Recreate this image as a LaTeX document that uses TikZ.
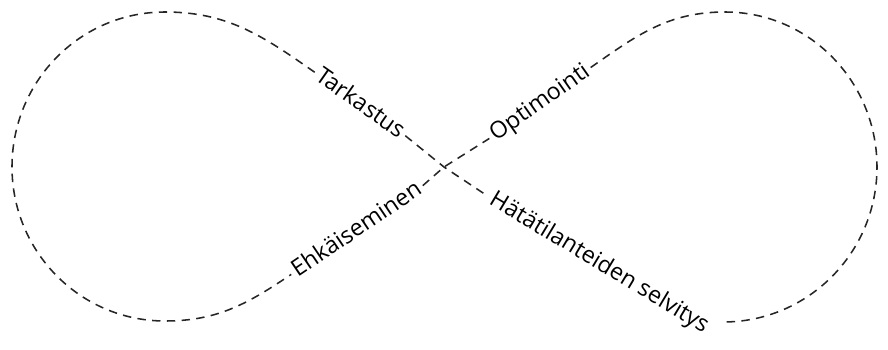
\documentclass[tikz,border=0pt]{standalone}
\usepackage{fontspec}
\setmainfont{Open Sans}
\begin{document}
\begin{tikzpicture}[x=0.025cm,y=0.025cm,
  loop/.style={draw=black!85, line width=1.1pt, dash pattern=on 6pt off 4.5pt},
  lbl/.style={inner sep=2.5pt, text height=12pt, text depth=3pt, font=\fontsize{16.5}{20}\selectfont}]
\useasboundingbox (-444,-182) rectangle (444,167);
\coordinate (c) at (0,0);
\coordinate (ltop) at (-279,155);
\coordinate (lleft) at (-432,0);
\coordinate (lbot) at (-279,-154);
\coordinate (rtop) at (281,155);
\coordinate (rright) at (433,0);
\coordinate (rend) at (279,-155);
\node[lbl, rotate=-35] (tark) at (-84,63) {Tarkastus};
\node[lbl, rotate=35] (opt) at (96,64) {Optimointi};
\node[lbl, rotate=34] (ehk) at (-87,-63) {Ehkäiseminen};
\node[lbl, rotate=-31] (hat) at (155,-96) {Hätätilanteiden selvitys};
\draw[loop] (tark.west) to[out=145,in=0] (ltop) to[out=180,in=90] (lleft) to[out=-90,in=180] (lbot) to[out=0,in=214] (ehk.west);
\draw[loop] (opt.east) to[out=35,in=180] (rtop) to[out=0,in=90] (rright) to[out=-90,in=0] (rend);
\draw[loop] (ehk.east) -- (c) -- (opt.west);
\draw[loop] (tark.east) -- (c) -- (hat.west);
\end{tikzpicture}
\end{document}
